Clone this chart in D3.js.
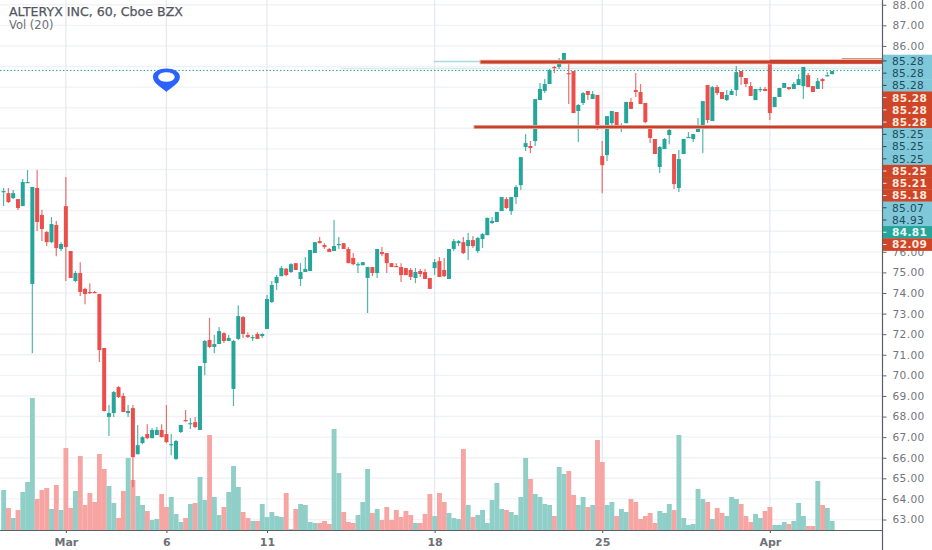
<!DOCTYPE html>
<html><head><meta charset="utf-8">
<script src="https://cdn.jsdelivr.net/npm/d3@7/dist/d3.min.js"></script>
<style>html,body{margin:0;padding:0;background:#fff;overflow:hidden}svg{display:block}text{font-family:"DejaVu Sans",sans-serif}</style>
</head><body><svg id="c" width="932" height="550"></svg>
<script>
const opens=[78.90,78.85,78.61,78.56,78.22,79.34,74.44,79.10,77.79,76.96,76.47,77.30,76.14,78.22,76.04,74.58,74.97,74.20,74.05,74.05,73.95,71.33,67.98,68.17,69.43,69.00,68.17,68.41,66.17,66.71,67.15,66.95,67.10,67.35,67.15,66.61,65.94,67.25,67.83,67.63,67.73,67.35,70.60,71.72,71.38,71.52,72.05,71.67,69.34,71.77,72.83,71.96,71.82,72.01,71.91,72.25,73.56,74.48,74.82,75.18,75.02,75.45,74.68,75.02,75.07,75.94,76.52,76.33,76.14,76.04,76.33,76.42,76.14,75.70,75.35,75.35,74.73,75.26,74.97,75.99,75.94,75.45,75.31,75.26,75.21,75.12,74.73,75.07,75.02,74.73,75.21,75.55,75.12,74.68,76.14,76.42,76.47,76.28,76.57,76.04,76.62,76.81,77.40,77.45,77.98,78.56,77.98,78.66,79.24,81.09,81.14,81.38,83.37,83.81,84.15,84.98,84.98,85.27,84.68,84.78,82.84,83.23,83.81,83.42,83.62,80.65,80.70,82.25,82.79,82.01,82.25,83.28,83.86,83.76,83.23,82.06,81.48,80.12,80.99,81.67,80.75,79.10,80.75,81.53,81.48,81.82,82.01,84.10,82.35,84.00,83.76,83.37,83.62,83.86,84.78,84.44,84.05,83.37,83.86,83.91,85.22,83.03,83.52,83.96,84.00,83.91,84.10,84.05,84.58,84.05,83.91,84.39,84.53,84.63];
const highs=[79.10,79.10,79.00,78.56,79.54,79.97,79.15,79.97,78.03,77.01,77.69,77.50,76.47,79.63,76.04,75.07,75.50,74.25,74.48,74.10,73.95,71.33,68.56,69.24,69.48,69.14,68.56,68.56,67.59,67.05,67.63,67.44,67.49,67.63,68.56,67.15,66.86,67.60,68.32,67.93,67.98,70.46,71.72,72.79,71.96,72.35,72.10,71.96,71.72,73.41,72.88,72.10,71.96,72.10,72.05,73.90,74.58,74.87,75.31,75.21,75.45,75.45,75.45,75.75,76.09,76.47,76.72,76.42,76.18,77.55,76.72,76.42,76.23,75.94,75.50,75.50,75.26,75.26,76.14,76.23,75.94,75.45,75.45,75.45,75.21,75.21,75.21,75.17,75.17,74.73,75.65,75.75,75.70,76.14,76.62,76.57,76.72,76.91,76.77,76.72,76.91,77.65,77.69,77.94,78.66,78.66,78.66,79.24,80.60,81.72,81.38,83.42,84.20,84.39,84.88,85.03,85.41,85.66,85.17,84.78,83.18,83.76,83.81,83.81,83.62,81.38,82.59,82.84,82.79,82.25,83.28,83.47,84.68,84.15,83.23,82.16,81.48,81.14,81.53,82.01,80.75,80.95,81.48,81.82,81.72,82.50,83.32,84.10,84.05,84.10,83.76,83.86,83.91,85.03,84.78,84.44,84.25,83.91,84.00,84.00,85.22,83.52,83.96,84.20,84.00,84.25,84.63,84.98,84.68,84.05,84.44,84.44,84.73,84.78];
const lows=[78.22,78.37,78.56,78.03,78.22,79.34,71.08,77.01,76.52,76.28,76.42,75.79,76.04,74.58,74.73,74.53,73.85,73.46,73.95,74.00,70.65,68.25,67.05,67.98,68.90,68.22,67.98,64.57,66.17,66.66,66.90,66.95,67.10,67.00,66.71,66.12,65.89,67.20,67.75,67.40,67.44,67.35,70.01,71.33,71.08,71.52,71.57,71.67,68.51,71.72,71.82,71.82,71.67,71.77,71.82,72.25,73.51,74.15,74.82,74.82,74.97,75.12,74.34,75.02,75.07,75.94,76.42,76.14,75.99,76.04,76.14,76.14,75.45,75.35,74.97,75.35,73.03,74.82,74.73,75.79,74.97,75.26,75.26,74.53,74.87,74.63,74.48,74.78,74.68,74.20,74.87,74.78,74.78,74.68,76.04,76.28,75.89,75.60,76.18,75.94,76.18,76.81,77.35,77.45,77.98,78.08,77.79,78.32,79.00,80.90,80.80,81.14,83.37,83.71,84.15,84.68,84.88,85.27,83.18,82.74,81.33,83.13,83.37,83.42,81.92,78.85,80.41,82.06,82.06,81.82,82.25,82.94,83.52,83.18,82.25,81.28,80.75,79.83,80.99,81.23,79.05,78.90,80.75,81.53,81.33,81.82,80.80,82.25,82.35,83.62,83.42,83.32,83.62,83.57,84.10,84.00,83.57,83.37,83.76,83.81,82.40,83.03,83.52,83.96,83.86,83.91,84.10,83.42,84.00,83.76,83.91,83.91,84.53,84.63];
const closes=[78.95,78.42,78.85,78.13,79.39,79.39,79.15,77.45,77.11,76.47,77.35,76.18,76.38,76.23,74.73,74.97,74.05,73.95,74.00,74.03,71.23,68.27,68.17,69.19,68.95,68.22,68.27,66.03,66.61,67.00,66.95,67.35,67.35,67.00,66.76,66.66,66.81,67.59,67.78,67.68,67.49,70.45,71.67,71.38,71.52,72.15,71.67,71.82,71.67,72.88,72.01,71.86,71.86,71.77,72.01,73.71,74.39,74.78,75.21,74.87,75.40,75.12,75.02,75.17,76.09,76.47,76.42,76.23,75.99,76.28,76.38,76.14,75.45,75.40,75.40,75.50,75.26,74.97,76.14,75.89,75.45,75.26,75.26,74.87,74.87,74.78,75.02,74.92,74.68,74.20,75.50,74.78,74.82,76.14,76.52,76.52,75.94,76.57,76.28,76.67,76.86,77.65,77.50,77.94,78.66,78.13,78.66,79.15,80.60,81.28,81.04,83.42,83.91,84.15,84.83,84.93,85.17,85.66,84.63,82.74,83.13,83.71,83.62,83.66,81.96,80.21,82.59,82.84,82.06,82.16,83.28,82.94,83.76,83.18,82.30,81.53,80.75,81.09,81.48,81.92,79.29,80.51,81.48,81.58,81.72,82.11,83.32,82.40,84.00,83.71,83.42,83.62,83.81,84.73,84.49,84.15,83.57,83.91,83.91,83.81,82.74,83.52,83.96,84.20,83.91,84.15,84.39,84.98,84.00,83.76,84.29,84.29,84.58,84.78];
const volumes=[4.0,2.2,1.2,2.0,3.8,4.8,13.2,3.1,4.0,4.2,2.1,4.5,2.0,8.2,2.2,3.9,7.4,2.5,3.7,2.8,7.6,6.1,4.4,2.7,1.2,3.9,7.2,5.0,3.4,2.5,1.9,1.0,1.1,3.6,2.3,3.3,1.6,0.8,1.2,2.6,2.7,5.3,3.0,9.5,3.3,1.5,2.3,3.8,6.4,4.3,1.8,1.2,0.9,0.9,2.6,1.3,1.8,1.4,1.3,3.7,0.1,2.1,2.6,2.5,0.8,0.7,0.7,0.9,0.6,10.1,5.7,1.8,0.8,0.7,1.5,2.8,6.1,1.7,2.1,1.0,2.3,1.0,2.0,1.3,1.9,1.5,0.7,0.7,1.6,3.6,1.4,3.7,2.8,1.7,1.2,1.1,8.1,2.5,1.3,1.5,2.0,0.7,3.0,4.7,2.1,2.0,1.8,1.5,3.3,7.2,5.1,3.6,3.3,2.6,2.5,1.4,6.3,5.6,5.9,3.5,2.5,3.3,2.3,2.5,9.0,6.8,2.5,2.8,1.4,2.1,1.8,3.1,2.8,1.1,1.4,1.7,0.7,1.9,1.7,2.6,2.0,9.5,1.2,0.5,0.6,4.1,3.1,2.8,1.1,2.2,1.7,1.4,3.3,3.1,2.6,1.4,0.8,1.6,1.2,1.9,2.3,0.5,0.5,0.8,0.6,0.9,2.7,1.4,0.4,0.4,4.9,2.5,2.2,0.9];
const gridPrices=d3.range(63,89);
const axisPrices=[63,64,65,66,67,68,69,70,71,72,73,74,75,76,86,87,88];
const timeTickBars=[13,34,55,90,125,160];
const timeTickLabels=["Mar","6","11","18","25","Apr"];
const stackLabels=["85.28","85.28","85.28","85.28","85.28","85.28","85.25","85.25","85.25","85.25","85.21","85.18","85.07","84.93","84.81","82.09"];
const stackKinds=["b","b","b","r","r","r","b","b","b","r","r","r","b","b","g","r"];
const lastPrice=84.81, resistance=85.22, support=82.06, titleText="ALTERYX INC, 60, Cboe BZX", volText="Vol (20)";

const W=932,H=550,axisX=882,baseY=530;
const svg=d3.select("#c");
const x=d3.scaleLinear().domain([0,173]).range([3.6,832.1]);
const y=d3.scaleLinear().domain([63,88]).range([519.5,4.75]);
const yv=d3.scaleLinear().domain([0,13.2]).range([baseY,398]);
const GREEN="#26a69a",RED="#ea4f4c";
const idx=d3.range(opens.length);

// grid
svg.append("g").selectAll("line").data(gridPrices).join("line")
  .attr("x1",0).attr("x2",axisX).attr("y1",d=>y(d)).attr("y2",d=>y(d)).attr("stroke","#f0f2f6").attr("stroke-width",1.4);
svg.append("g").selectAll("line").data(timeTickBars).join("line")
  .attr("x1",d=>x(d)).attr("x2",d=>x(d)).attr("y1",0).attr("y2",baseY).attr("stroke","#e6e9f0").attr("stroke-width",1.3);

// volume
const bw=x(1)-x(0);
svg.append("g").selectAll("rect").data(idx).join("rect")
  .attr("x",i=>x(i)-bw/2).attr("width",bw+0.1).attr("y",i=>yv(volumes[i])).attr("height",i=>baseY-yv(volumes[i]))
  .attr("fill",i=>closes[i]>=opens[i]?"#8fcfc8":"#f6a5a3");

// pale levels
svg.append("line").attr("x1",x(62)+40).attr("x2",axisX).attr("y1",y(lastPrice)-2).attr("y2",y(lastPrice)-2).attr("stroke","#d6ece9").attr("stroke-width",1.6);
svg.append("line").attr("x1",x(89.8)).attr("x2",x(99.6)).attr("y1",y(resistance)-0.5).attr("y2",y(resistance)-0.5).attr("stroke","#a9d9e4").attr("stroke-width",1.5);

// candles
svg.append("g").selectAll("line").data(idx).join("line")
  .attr("x1",i=>x(i)).attr("x2",i=>x(i)).attr("y1",i=>y(highs[i])).attr("y2",i=>y(lows[i]))
  .attr("stroke",i=>closes[i]>=opens[i]?GREEN:RED).attr("stroke-width",1.2).attr("opacity",.8);
svg.append("g").selectAll("rect").data(idx).join("rect")
  .attr("x",i=>x(i)-2).attr("width",4)
  .attr("y",i=>y(Math.max(opens[i],closes[i])))
  .attr("height",i=>Math.max(1.2,Math.abs(y(opens[i])-y(closes[i]))))
  .attr("fill",i=>closes[i]>=opens[i]?GREEN:RED);

// last price dotted
svg.append("line").attr("x1",0).attr("x2",axisX).attr("y1",y(lastPrice)).attr("y2",y(lastPrice))
  .attr("stroke",GREEN).attr("stroke-width",1).attr("stroke-dasharray","1.5 2");

// drawn levels
const LV="#c8402a",HALO="#eab6a8";
svg.append("line").attr("x1",x(99.6)-1).attr("x2",axisX).attr("y1",y(resistance)).attr("y2",y(resistance)).attr("stroke",HALO).attr("stroke-width",4.4);
svg.append("line").attr("x1",x(98.3)-1).attr("x2",axisX).attr("y1",y(support)).attr("y2",y(support)).attr("stroke",HALO).attr("stroke-width",4);
svg.append("line").attr("x1",x(99.6)).attr("x2",axisX).attr("y1",y(resistance)).attr("y2",y(resistance)).attr("stroke",LV).attr("stroke-width",3);
svg.append("line").attr("x1",x(160)).attr("x2",axisX).attr("y1",y(resistance)-0.3).attr("y2",y(resistance)-0.3).attr("stroke",LV).attr("stroke-width",3.8);
svg.append("line").attr("x1",x(98.3)).attr("x2",axisX).attr("y1",y(support)).attr("y2",y(support)).attr("stroke",LV).attr("stroke-width",2.6);
svg.append("line").attr("x1",x(175)).attr("x2",axisX).attr("y1",y(resistance)-3.5).attr("y2",y(resistance)-3.5).attr("stroke",LV).attr("stroke-width",1.2).attr("opacity",.6);

// pin
const px=x(34),pty=78;
const pin=svg.append("g").attr("transform",`translate(${px},${pty})`);
pin.append("path").attr("d","M0,14 C-2,11 -13.5,6 -13.5,-1 C-13.5,-6.5 -7,-9.5 0,-9.5 C7,-9.5 13.5,-6.5 13.5,-1 C13.5,6 2,11 0,14 Z").attr("fill","#2962ff");
pin.append("ellipse").attr("cx",0).attr("cy",-1).attr("rx",8.3).attr("ry",4.8).attr("fill","#fff");

// legend
svg.append("text").attr("x",9).attr("y",16).attr("font-size",12.6).attr("fill","#53565e").style("stroke","#53565e").style("stroke-width",.25).text(titleText);
svg.append("text").attr("x",9).attr("y",28.5).attr("font-size",11.5).attr("fill","#6b6e76").text(volText);

// axes
svg.append("rect").attr("x",axisX).attr("y",0).attr("width",W-axisX).attr("height",H).attr("fill","#fff");
const ax=d3.axisRight(y).tickValues(axisPrices).tickFormat(d3.format(".2f")).tickSize(4).tickPadding(6);
const gy=svg.append("g").attr("transform",`translate(${axisX+0.5},0)`).call(ax);
gy.select(".domain").remove();
gy.selectAll("line").attr("stroke","#666");
gy.selectAll("text").attr("font-size",10.6).attr("fill","#73767d").attr("font-family","DejaVu Sans").style("letter-spacing","0.35px");

const ax2=d3.axisBottom(x).tickValues(timeTickBars).tickFormat((d,i)=>timeTickLabels[i]).tickSize(3).tickPadding(5);
const gx=svg.append("g").attr("transform",`translate(0,${baseY})`).call(ax2);
gx.select(".domain").remove();
gx.selectAll("line").attr("stroke","#555");
gx.selectAll("text").attr("font-size",11).attr("font-weight",600).attr("fill","#6d7077").attr("font-family","DejaVu Sans");

// stacked price labels
const sy=d3.scaleLinear().domain([0,15]).range([60.9,244.5]);
const bg={b:"#7fc8d9",r:"#cf4527",g:"#26a69a"},fg={b:"#1f4a5c",r:"#fde9df",g:"#eaf8f6"};
const sg=svg.append("g");
sg.selectAll("rect").data(d3.range(stackLabels.length)).join("rect")
  .attr("x",axisX).attr("width",W-axisX).attr("y",i=>sy(i)-6.2).attr("height",12.6).attr("fill",i=>bg[stackKinds[i]]);
sg.selectAll("line").data(d3.range(stackLabels.length)).join("line")
  .attr("x1",axisX).attr("x2",axisX+4.5).attr("y1",i=>sy(i)).attr("y2",i=>sy(i)).attr("stroke",i=>fg[stackKinds[i]]).attr("stroke-width",1);
sg.selectAll("text").data(d3.range(stackLabels.length)).join("text")
  .attr("x",892).attr("y",i=>sy(i)+3.9).attr("font-size",10.6).attr("fill",i=>fg[stackKinds[i]]).attr("font-weight",i=>stackKinds[i]==="b"?400:600)
  .style("letter-spacing","0.35px").text(i=>stackLabels[i]);

// frame lines
svg.append("line").attr("x1",0).attr("x2",axisX).attr("y1",baseY+0.5).attr("y2",baseY+0.5).attr("stroke","#5c6068").attr("stroke-width",1);
svg.append("line").attr("x1",axisX+0.5).attr("x2",axisX+0.5).attr("y1",0).attr("y2",H).attr("stroke","#5c6068").attr("stroke-width",1.2);
</script></body></html>
